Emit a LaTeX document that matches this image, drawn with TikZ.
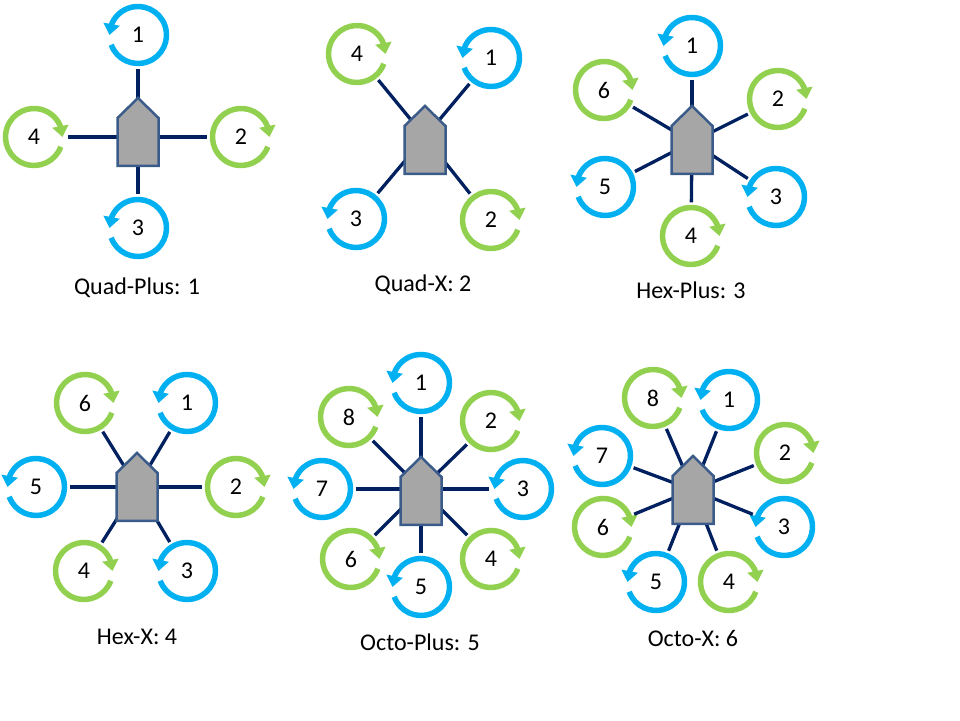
\documentclass[tikz,border=0pt]{standalone}
\usepackage{fontspec}
\setmainfont{Carlito}
\usetikzlibrary{arrows.meta,bending}
\definecolor{rotB}{HTML}{00B0F0}
\definecolor{rotG}{HTML}{92D050}
\definecolor{armC}{HTML}{002060}
\definecolor{bodyF}{HTML}{A6A6A6}
\definecolor{bodyD}{HTML}{3B5C8A}
\tikzset{
  rotor/.style={circle, minimum size=67pt, inner sep=0pt, font=\fontsize{24}{28}\selectfont},
  ringB/.style={draw=rotB, line width=5.5pt, -{Triangle[width=16pt,length=11pt,flex]}},
  ringG/.style={draw=rotG, line width=5.5pt, -{Triangle[width=16pt,length=11pt,flex]}},
  arm/.style={draw=armC, line width=3.3pt},
  bodyS/.style={draw=bodyD, fill=bodyF, line width=2.5pt, line join=miter},
  caption/.style={font=\fontsize{24}{28}\selectfont, inner sep=0pt}
}
\newcommand\rotorB[3]{\node[rotor] (#1) at (#2) {#3};
  \draw[ringB] (#1.center) ++(200:28.5pt) arc[start angle=200,end angle=540,radius=28.5pt];}
\newcommand\rotorG[3]{\node[rotor] (#1) at (#2) {#3};
  \draw[ringG] (#1.center) ++(-20:28.5pt) arc[start angle=-20,end angle=-360,radius=28.5pt];}
\newcommand\dronebody[2]{\draw[bodyS] (#1,#2) -- ++(20.5,-20) -- ++(0,-48) -- ++(-41,0) -- ++(0,48) -- cycle;}
\begin{document}
\begin{tikzpicture}[x=1pt,y=1pt]
\useasboundingbox (0,0) rectangle (960,720);
% ---------- Quad-Plus: 1
\coordinate (a) at (138,583);
\rotorB{a1}{138,685}{1}
\rotorG{a2}{241,583}{2}
\rotorB{a3}{138,492}{3}
\rotorG{a4}{34,583}{4}
\foreach \m in {a1,a2,a3,a4} \draw[arm] (a) -- (\m);
\dronebody{138}{622}
\node[caption] (capa) at (137,432) {Quad-Plus: 1};
% ---------- Quad-X: 2
\coordinate (b) at (425,583);
\rotorB{b1}{491,662}{1}
\rotorG{b2}{491,500}{2}
\rotorB{b3}{356,501}{3}
\rotorG{b4}{357,666}{4}
\foreach \m in {b1,b2,b3,b4} \draw[arm] (b) -- (\m);
\dronebody{425}{614}
\node[caption] (capb) at (423,435) {Quad-X: 2};
% ---------- Hex-Plus: 3
\coordinate (c) at (692,578);
\rotorB{c1}{692,674}{1}
\rotorG{c2}{778,621}{2}
\rotorB{c3}{776,523}{3}
\rotorG{c4}{691,484}{4}
\rotorB{c5}{605,533}{5}
\rotorG{c6}{604,630}{6}
\foreach \m in {c1,c2,c3,c4,c5,c6} \draw[arm] (c) -- (\m);
\dronebody{692}{614}
\node[caption] (capc) at (691,430) {Hex-Plus: 3};
% ---------- Hex-X: 4
\coordinate (d) at (137,233);
\rotorB{d1}{187,317}{1}
\rotorG{d2}{236,233}{2}
\rotorB{d3}{187,149}{3}
\rotorG{d4}{84,149}{4}
\rotorB{d5}{36,233}{5}
\rotorG{d6}{85,317}{6}
\foreach \m in {d1,d2,d3,d4,d5,d6} \draw[arm] (d) -- (\m);
\dronebody{137}{267}
\node[caption] (capd) at (137,83) {Hex-X: 4};
% ---------- Octo-Plus: 5
\coordinate (e) at (421,231);
\rotorB{e1}{421,337}{1}
\rotorG{e2}{491,299}{2}
\rotorB{e3}{523,231}{3}
\rotorG{e4}{491,161}{4}
\rotorB{e5}{421,133}{5}
\rotorG{e6}{351,161}{6}
\rotorB{e7}{322,231}{7}
\rotorG{e8}{349,303}{8}
\foreach \m in {e1,e2,e3,e4,e5,e6,e7,e8} \draw[arm] (e) -- (\m);
\dronebody{421}{263}
\node[caption] (cape) at (420,78) {Octo-Plus: 5};
% ---------- Octo-X: 6
\coordinate (f) at (693,230);
\rotorB{f1}{729,320}{1}
\rotorG{f2}{785,267}{2}
\rotorB{f3}{784,193}{3}
\rotorG{f4}{729,138}{4}
\rotorB{f5}{656,138}{5}
\rotorG{f6}{603,193}{6}
\rotorB{f7}{602,264}{7}
\rotorG{f8}{653,322}{8}
\foreach \m in {f1,f2,f3,f4,f5,f6,f7,f8} \draw[arm] (f) -- (\m);
\dronebody{693}{264}
\node[caption] (capf) at (693,82) {Octo-X: 6};
\end{tikzpicture}
\end{document}
